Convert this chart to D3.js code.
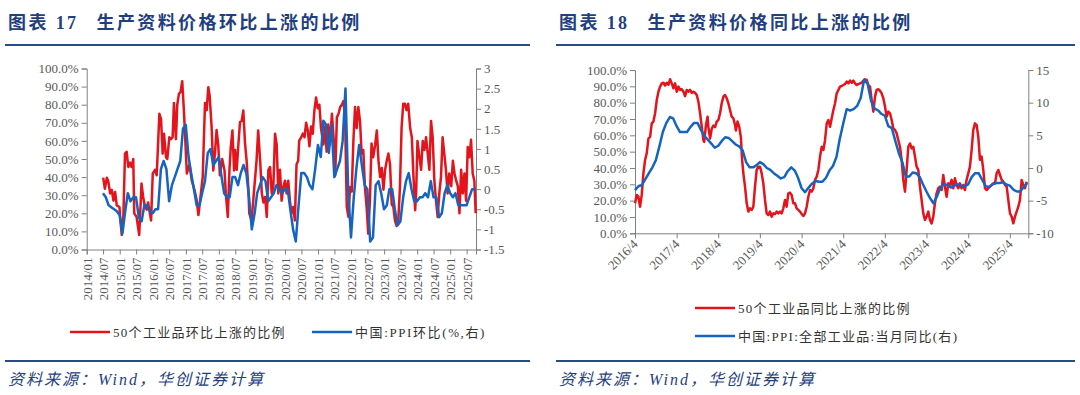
<!DOCTYPE html>
<html><head><meta charset="utf-8">
<script src="https://cdn.jsdelivr.net/npm/d3@7"></script>
<style>
html,body{margin:0;padding:0;background:#fff;}
svg{display:block;}
</style></head>
<body>
<svg id="c" width="1080" height="395"></svg>
<script>
// ---------------- DATA ----------------
const titleLeft = ["图表 17", "生产资料价格环比上涨的比例"];
const titleRight = ["图表 18", "生产资料价格同比上涨的比例"];
const sourceText = "资料来源：Wind，华创证券计算";

const leftSeriesNames = ["50个工业品环比上涨的比例", "中国:PPI环比(%,右)"];
const rightSeriesNames = ["50个工业品同比上涨的比例", "中国:PPI:全部工业品:当月同比(右)"];

const leftYTicks = [0,10,20,30,40,50,60,70,80,90,100];
const leftY2Ticks = [3,2.5,2,1.5,1,0.5,0,-0.5,-1,-1.5];
const rightYTicks = [0,10,20,30,40,50,60,70,80,90,100];
const rightY2Ticks = [15,10,5,0,-5,-10];

// left chart x ticks every half year 2014/01 .. 2025/07
const leftXTickLabels = ["2014/01","2014/07","2015/01","2015/07","2016/01","2016/07","2017/01","2017/07","2018/01","2018/07","2019/01","2019/07","2020/01","2020/07","2021/01","2021/07","2022/01","2022/07","2023/01","2023/07","2024/01","2024/07","2025/01","2025/07"];
const rightXTickLabels = ["2016/4","2017/4","2018/4","2019/4","2020/4","2021/4","2022/4","2023/4","2024/4","2025/4"];

// 50 industrial products: share with MoM rise (%), [decimal year, value]
const momShare = [[2014.50,39.7],[2014.55,33.6],[2014.61,39.7],[2014.65,38],[2014.71,31],[2014.76,33],[2014.81,27],[2014.86,31.8],[2014.91,24.4],[2014.99,23.5],[2015.06,8],[2015.11,18],[2015.16,53],[2015.21,54],[2015.26,45.6],[2015.31,48],[2015.36,45.6],[2015.41,50],[2015.44,20],[2015.51,18],[2015.59,8],[2015.66,36.4],[2015.71,29],[2015.76,24],[2015.82,22],[2015.86,26],[2015.95,16],[2016.00,42],[2016.07,44],[2016.12,41],[2016.20,75],[2016.25,72],[2016.30,53],[2016.34,64],[2016.40,51],[2016.44,50],[2016.50,62],[2016.55,61],[2016.60,62],[2016.64,81],[2016.70,61],[2016.74,80],[2016.79,86],[2016.84,87],[2016.89,93],[2016.94,77],[2017.03,42],[2017.11,47],[2017.18,38],[2017.26,33],[2017.33,27],[2017.38,19],[2017.43,27],[2017.51,40],[2017.58,81],[2017.63,77],[2017.68,89.7],[2017.72,85],[2017.78,67.6],[2017.83,43.7],[2017.88,53],[2017.93,66],[2017.98,58],[2018.03,41],[2018.10,50],[2018.17,43.7],[2018.21,31],[2018.27,18],[2018.32,44],[2018.36,56.6],[2018.41,65.8],[2018.46,43.7],[2018.49,55],[2018.54,44],[2018.59,58],[2018.64,70.4],[2018.69,71],[2018.74,76.8],[2018.79,59],[2018.84,49],[2018.89,34.5],[2018.92,20],[2018.99,16],[2019.04,27],[2019.09,38],[2019.14,49],[2019.19,65.8],[2019.25,49],[2019.30,31],[2019.35,26],[2019.40,29],[2019.45,18],[2019.50,44],[2019.55,45.6],[2019.60,31],[2019.65,35],[2019.70,64],[2019.75,58],[2019.80,31],[2019.85,44],[2019.90,27],[2019.95,34.5],[2020.00,38],[2020.05,31],[2020.10,38],[2020.15,27],[2020.20,20],[2020.25,23.5],[2020.30,16],[2020.35,47],[2020.40,49],[2020.43,60],[2020.49,62],[2020.54,64],[2020.59,62],[2020.64,70],[2020.69,65.8],[2020.74,57],[2020.79,68],[2020.84,64],[2020.89,77],[2020.94,84],[2020.99,78],[2021.04,80],[2021.09,67],[2021.16,58],[2021.21,68],[2021.26,54],[2021.31,69],[2021.36,58],[2021.42,75],[2021.47,62],[2021.52,41],[2021.57,73],[2021.62,75],[2021.67,78.7],[2021.72,80],[2021.77,82],[2021.82,71],[2021.87,23.5],[2021.92,18],[2021.97,34.5],[2022.02,32],[2022.07,60],[2022.12,78.7],[2022.17,67],[2022.22,78.7],[2022.27,71],[2022.32,53],[2022.37,55],[2022.42,34.5],[2022.47,23.5],[2022.52,8.8],[2022.57,27],[2022.62,58.5],[2022.67,51],[2022.73,58],[2022.78,65.8],[2022.83,49],[2022.88,40],[2022.93,45],[2022.98,33],[2023.03,44],[2023.08,49],[2023.13,53],[2023.18,47],[2023.23,25],[2023.28,23.5],[2023.33,16],[2023.38,13],[2023.43,16],[2023.48,34.5],[2023.53,67.6],[2023.58,80.5],[2023.63,80.5],[2023.68,77],[2023.73,80.5],[2023.79,67],[2023.84,62],[2023.89,40],[2023.94,21.7],[2023.97,31],[2024.01,60],[2024.07,51],[2024.12,44],[2024.17,60],[2024.22,55],[2024.27,62],[2024.32,53],[2024.37,44],[2024.42,71],[2024.47,62],[2024.52,38],[2024.57,27],[2024.62,18],[2024.67,31],[2024.72,40],[2024.77,62],[2024.82,53],[2024.87,44],[2024.92,31],[2024.97,42],[2025.03,35],[2025.08,49],[2025.13,42],[2025.18,38],[2025.23,35],[2025.28,20],[2025.33,44],[2025.38,31],[2025.43,42],[2025.48,27],[2025.53,56.6],[2025.58,51],[2025.63,60.6],[2025.68,42],[2025.73,38],[2025.77,20]];

// China PPI MoM (%), monthly from 2014/06 to 2025/09
const ppiMomStart = "2014-06";
const ppiMom = [
 -0.1,-0.2,-0.4,-0.45,-0.5,-0.55,-0.65,
 -1.1,-0.6,-0.1,-0.3,-0.2,-0.2,-0.7,-0.8,-0.4,-0.4,-0.55,-0.6,
 -0.5,-0.5,0.5,0.7,0.5,-0.3,0.1,0.3,0.5,0.7,1.5,1.6,
 0.8,0.4,0.0,-0.4,-0.4,-0.1,0.2,0.9,1.0,0.6,0.7,0.8,
 0.3,-0.1,-0.2,-0.2,0.3,0.3,0.1,0.4,0.6,0.4,-0.2,-1.0,
 -0.6,-0.1,0.1,0.3,0.2,-0.3,-0.2,-0.1,0.1,0.0,-0.1,0.0,
 0.0,-0.5,-1.0,-1.3,-0.4,0.4,0.4,0.3,0.1,0.0,0.5,1.1,
 0.8,1.7,1.6,0.9,1.6,0.3,0.5,0.7,1.2,2.5,0.0,-1.2,
 -0.2,0.5,1.1,0.6,0.1,0.0,-1.3,-1.2,0.1,0.2,-0.1,-0.5,
 -0.4,0.0,0.0,-0.5,-0.9,-0.8,-0.2,0.2,0.4,0.0,-0.3,-0.3,
 -0.2,-0.2,-0.1,-0.2,0.2,-0.2,-0.2,-0.7,-0.6,-0.1,0.1,-0.1,
 -0.2,-0.1,-0.4,-0.4,-0.4,-0.4,-0.2,0.0,0.0
];

// 50 industrial products: share with YoY rise (%), [decimal year, value]
const yoyShare = [[2016.25,18.4],[2016.29,23.5],[2016.33,22.4],[2016.37,16.3],[2016.41,23.5],[2016.45,36.7],[2016.49,44.9],[2016.53,49],[2016.57,58],[2016.61,59],[2016.65,67.3],[2016.69,68.4],[2016.73,73.5],[2016.77,81.6],[2016.81,86.7],[2016.85,89.8],[2016.89,91.8],[2016.93,92.2],[2016.97,90.5],[2017.01,92.2],[2017.05,91],[2017.09,94.3],[2017.13,91.8],[2017.17,88.8],[2017.21,91.8],[2017.25,86.7],[2017.29,89.8],[2017.33,87.8],[2017.37,88.2],[2017.41,86.7],[2017.45,84],[2017.49,87.8],[2017.53,86.7],[2017.57,87.8],[2017.61,86],[2017.65,86.7],[2017.69,86],[2017.73,84.7],[2017.77,80.6],[2017.81,73.5],[2017.85,65.3],[2017.89,57],[2017.91,56],[2017.95,66],[2017.99,71.4],[2018.01,65],[2018.05,58],[2018.09,64],[2018.13,66],[2018.17,65],[2018.21,68.4],[2018.25,69.4],[2018.29,73.5],[2018.33,79.6],[2018.37,83.7],[2018.41,84.7],[2018.45,82.7],[2018.49,79.6],[2018.53,75.5],[2018.57,71.4],[2018.61,70.4],[2018.65,66.3],[2018.67,63],[2018.71,68.4],[2018.75,65.3],[2018.79,59],[2018.82,45],[2018.85,36.7],[2018.89,28.6],[2018.93,18.4],[2018.97,13.3],[2019.01,15.3],[2019.05,14.3],[2019.09,16.3],[2019.13,28.6],[2019.17,38.8],[2019.21,40.8],[2019.25,40.8],[2019.29,36.7],[2019.33,30.6],[2019.37,20.4],[2019.41,12.2],[2019.45,11.2],[2019.49,13.3],[2019.53,10.2],[2019.57,12.2],[2019.61,11.8],[2019.65,13.3],[2019.69,12.2],[2019.73,13.3],[2019.77,12.2],[2019.81,15.3],[2019.85,20.4],[2019.89,16.3],[2019.93,24.5],[2019.97,24.9],[2020.01,23.5],[2020.05,18.4],[2020.09,18.4],[2020.13,15.3],[2020.17,14.3],[2020.21,13.3],[2020.25,11.8],[2020.29,10.6],[2020.33,12.2],[2020.37,16.3],[2020.41,22.4],[2020.45,26.5],[2020.49,25.5],[2020.53,27.6],[2020.57,32.7],[2020.61,34.7],[2020.65,38.8],[2020.69,47],[2020.73,53],[2020.77,51],[2020.81,57],[2020.85,67.3],[2020.89,69.4],[2020.93,65.3],[2020.97,70.4],[2021.01,75.5],[2021.05,79.6],[2021.09,85.7],[2021.13,87.8],[2021.17,89.8],[2021.21,90.2],[2021.25,90.8],[2021.29,91.4],[2021.33,92.9],[2021.37,91.8],[2021.41,93.5],[2021.45,92.2],[2021.49,93.5],[2021.53,91.8],[2021.57,90.8],[2021.61,91.4],[2021.65,91.8],[2021.69,92.2],[2021.73,93.5],[2021.77,94.3],[2021.81,93.9],[2021.85,90.8],[2021.89,89.8],[2021.93,81.6],[2021.97,74.5],[2022.01,83.7],[2022.05,87.8],[2022.09,88.2],[2022.13,87.3],[2022.17,85.7],[2022.21,82.7],[2022.25,77.6],[2022.29,71.4],[2022.33,74.5],[2022.37,73.5],[2022.41,69.4],[2022.45,64.3],[2022.49,63.3],[2022.53,61.2],[2022.57,57],[2022.61,53],[2022.65,45],[2022.69,32.7],[2022.73,25.5],[2022.77,38.8],[2022.81,53],[2022.85,55],[2022.89,52],[2022.93,53],[2022.97,47],[2023.01,40.8],[2023.05,38.8],[2023.09,28.6],[2023.13,20.4],[2023.17,12.2],[2023.21,8.2],[2023.25,10.2],[2023.29,13.3],[2023.33,8.2],[2023.37,6.1],[2023.41,10.2],[2023.45,18.4],[2023.49,24.5],[2023.53,27.6],[2023.57,28.6],[2023.61,26.5],[2023.65,35.7],[2023.69,28.6],[2023.73,22.4],[2023.77,30.6],[2023.81,29.6],[2023.85,32.7],[2023.89,27.6],[2023.93,33.7],[2023.97,29.6],[2024.01,27.6],[2024.05,30.6],[2024.09,27.6],[2024.13,29.6],[2024.17,26.5],[2024.21,32.7],[2024.25,36.7],[2024.29,40.8],[2024.33,51],[2024.37,63.3],[2024.41,67.3],[2024.45,66.3],[2024.49,59],[2024.53,45],[2024.57,47],[2024.61,38.8],[2024.65,27.6],[2024.69,26.5],[2024.73,27.6],[2024.77,28.6],[2024.81,29.6],[2024.85,30.6],[2024.89,30.6],[2024.93,36.7],[2024.97,38.8],[2025.01,35.7],[2025.05,32.7],[2025.09,31.6],[2025.13,29.6],[2025.17,28.6],[2025.21,20.4],[2025.25,12.2],[2025.29,10.2],[2025.33,6.1],[2025.37,10.2],[2025.41,13.3],[2025.45,16.3],[2025.49,20.4],[2025.53,32.7],[2025.57,29.6],[2025.61,27.6],[2025.65,31.6]];

// China PPI YoY (%), monthly from 2016/04 to 2025/09
const ppiYoyStart = "2016-04";
const ppiYoy = [
 -3.4,-2.8,-2.6,-1.7,-0.8,0.1,1.2,3.3,5.5,
 6.9,7.8,7.6,6.4,5.5,5.5,5.5,6.3,6.9,6.9,5.8,4.9,
 4.3,3.7,3.1,3.4,4.1,4.7,4.6,4.1,3.6,3.3,2.7,0.9,
 0.1,0.1,0.4,0.9,0.6,0.0,-0.3,-0.8,-1.2,-1.6,-1.4,-0.5,
 0.1,-0.4,-1.5,-3.1,-3.7,-3.0,-2.4,-2.0,-2.1,-2.1,-1.5,-0.4,
 0.3,1.7,4.4,6.8,9.0,8.8,9.0,9.5,10.7,13.5,12.9,10.3,
 9.1,8.8,8.3,8.0,6.4,6.1,4.2,2.3,0.9,-1.3,-1.3,-0.7,
 -0.8,-1.4,-2.5,-3.6,-4.6,-5.4,-4.4,-3.0,-2.5,-2.6,-3.0,-2.7,
 -2.5,-2.7,-2.8,-2.5,-1.4,-0.8,-0.8,-1.8,-2.8,-2.9,-2.5,-2.3,
 -2.3,-2.2,-2.5,-2.7,-3.3,-3.6,-3.6,-2.9,-2.3
];

// ---------------- HELPERS ----------------
const RED = "#E3141C", BLUE = "#1565C0", TITLE = "#1F3F7F", AXIS = "#808080", TXT = "#595959";
const NUMFONT = "'Liberation Serif','Times New Roman',serif";
const CJK = "'Liberation Serif','Noto Sans CJK SC',serif";
function dy(v){ const y=Math.floor(v); const s=new Date(y,0,1), e=new Date(y+1,0,1); return new Date(+s+(v-y)*(e-s)); }
function monthSeries(start, vals, endOfMonth){
  const [y,m] = start.split("-").map(Number);
  return vals.map((v,i)=>({d: new Date(y, m-1+i+(endOfMonth?1:0), endOfMonth?0:1), v}));
}
const fmtNum = v => (v<0?"-":"") + Math.abs(v);

const svg = d3.select("#c");

// ---------------- TITLES / FOOTERS ----------------
function header(x0, x1, t){
  const g = svg.append("g");
  const tx = g.append("text").attr("x", x0+3).attr("y", 29)
    .attr("fill", TITLE).attr("font-family","'Liberation Serif','Noto Sans CJK SC',serif").attr("font-weight","bold")
    .attr("font-size", 18).attr("letter-spacing", 2.4);
  tx.append("tspan").text(t[0]);
  tx.append("tspan").attr("dx", 18).text(t[1]);
  g.append("line").attr("x1",x0).attr("x2",x1).attr("y1",45).attr("y2",45).attr("stroke","#2A4A88").attr("stroke-width",2.2);
  g.append("line").attr("x1",x0).attr("x2",x1).attr("y1",361).attr("y2",361).attr("stroke","#2A4A88").attr("stroke-width",2.2);
  g.append("text").attr("x", x0+3).attr("y", 385).attr("fill", TITLE)
    .attr("font-family","'Liberation Serif','Noto Sans CJK SC',serif").attr("font-style","italic").attr("font-size",16)
    .attr("letter-spacing", 2).text(sourceText);
}
header(5, 530, titleLeft);
header(556, 1075, titleRight);

// ---------------- LEFT CHART ----------------
(function(){
  const x = d3.scaleTime().domain([new Date(2014,0,1), dy(2025.78)]).range([86.7, 476]);
  const yL = d3.scaleLinear().domain([0,100]).range([249.5, 68.5]);
  const yR = d3.scaleLinear().domain([-1.5,3]).range([249.5, 68.5]);
  const g = svg.append("g");

  const tickDates = leftXTickLabels.map(s=>{const [a,b]=s.split("/").map(Number); return new Date(a,b-1,1);});
  const xa = d3.axisBottom(x).tickValues(tickDates).tickSize(5).tickFormat((d,i)=>leftXTickLabels[i]);
  const gx = g.append("g").attr("transform","translate(0,249.5)").call(xa);
  gx.selectAll("text").attr("transform","rotate(-90)").attr("text-anchor","end").attr("x",-8).attr("y",0).attr("dy","0.35em");
  const ya = d3.axisLeft(yL).tickValues(leftYTicks).tickSize(5).tickFormat(d=>d.toFixed(1)+"%");
  g.append("g").attr("transform","translate(86.7,0)").call(ya);
  const yb = d3.axisRight(yR).tickValues(leftY2Ticks).tickSize(5).tickFormat(fmtNum);
  g.append("g").attr("transform","translate(476,0)").call(yb);
  g.selectAll(".domain,.tick line").attr("stroke",AXIS);
  g.selectAll(".tick text").attr("fill",TXT).attr("font-family",NUMFONT).attr("font-size",13);

  const red = momShare.map(p=>({d:dy(p[0]), v:p[1]}));
  const blue = monthSeries(ppiMomStart, ppiMom, true);
  g.append("path").datum(red).attr("fill","none").attr("stroke",RED).attr("stroke-width",2.5).attr("stroke-linejoin","round")
    .attr("d", d3.line().x(d=>x(d.d)).y(d=>yL(d.v)));
  g.append("path").datum(blue).attr("fill","none").attr("stroke",BLUE).attr("stroke-width",2.5).attr("stroke-linejoin","round")
    .attr("d", d3.line().x(d=>x(d.d)).y(d=>yR(d.v)));

  // legend
  const lg = g.append("g").attr("font-family",CJK).attr("font-size",13).attr("fill","#333");
  lg.append("line").attr("x1",70).attr("x2",110).attr("y1",332).attr("y2",332).attr("stroke",RED).attr("stroke-width",2.5);
  lg.append("text").attr("x",113).attr("y",337).attr("letter-spacing",1.3).text(leftSeriesNames[0]);
  lg.append("line").attr("x1",312).attr("x2",352).attr("y1",332).attr("y2",332).attr("stroke",BLUE).attr("stroke-width",2.5);
  lg.append("text").attr("x",355).attr("y",337).attr("letter-spacing",1.6).text(leftSeriesNames[1]);
})();

// ---------------- RIGHT CHART ----------------
(function(){
  const x = d3.scaleTime().domain([new Date(2016,3,1), dy(2025.69)]).range([635, 1028.3]);
  const yL = d3.scaleLinear().domain([0,100]).range([233.3, 70]);
  const yR = d3.scaleLinear().domain([-10,15]).range([233.3, 70]);
  const g = svg.append("g");

  const tickDates = rightXTickLabels.map(s=>{const [a,b]=s.split("/").map(Number); return new Date(a,b-1,1);});
  const xa = d3.axisBottom(x).tickValues(tickDates).tickSize(5).tickFormat((d,i)=>rightXTickLabels[i]);
  const gx = g.append("g").attr("transform","translate(0,233.3)").call(xa);
  gx.selectAll("text").attr("transform","rotate(-45)").attr("text-anchor","end").attr("x",-6).attr("y",6).attr("dy","0.35em");
  const ya = d3.axisLeft(yL).tickValues(rightYTicks).tickSize(5).tickFormat(d=>d.toFixed(1)+"%");
  g.append("g").attr("transform","translate(635,0)").call(ya);
  const yb = d3.axisRight(yR).tickValues(rightY2Ticks).tickSize(5).tickFormat(fmtNum);
  g.append("g").attr("transform","translate(1028.3,0)").call(yb);
  g.selectAll(".domain,.tick line").attr("stroke",AXIS);
  g.selectAll(".tick text").attr("fill",TXT).attr("font-family",NUMFONT).attr("font-size",13);

  const red = yoyShare.map(p=>({d:dy(p[0]), v:p[1]}));
  const blue = monthSeries(ppiYoyStart, ppiYoy, false);
  g.append("path").datum(red).attr("fill","none").attr("stroke",RED).attr("stroke-width",2.5).attr("stroke-linejoin","round")
    .attr("d", d3.line().x(d=>x(d.d)).y(d=>yL(d.v)));
  g.append("path").datum(blue).attr("fill","none").attr("stroke",BLUE).attr("stroke-width",2.5).attr("stroke-linejoin","round")
    .attr("d", d3.line().x(d=>x(d.d)).y(d=>yR(d.v)));

  const lg = g.append("g").attr("font-family",CJK).attr("font-size",13).attr("fill","#333");
  lg.append("line").attr("x1",695).attr("x2",735).attr("y1",308).attr("y2",308).attr("stroke",RED).attr("stroke-width",2.5);
  lg.append("text").attr("x",738).attr("y",313).attr("letter-spacing",1.3).text(rightSeriesNames[0]);
  lg.append("line").attr("x1",695).attr("x2",735).attr("y1",336).attr("y2",336).attr("stroke",BLUE).attr("stroke-width",2.5);
  lg.append("text").attr("x",738).attr("y",341).attr("letter-spacing",1.3).text(rightSeriesNames[1]);
})();
</script>
</body></html>
